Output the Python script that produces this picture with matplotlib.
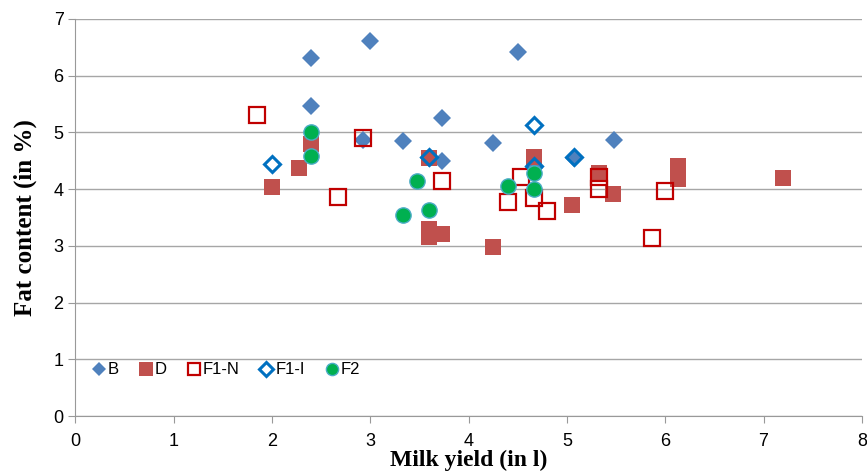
import matplotlib
matplotlib.use("Agg")
import matplotlib.pyplot as plt

# data
b_x = [2.4, 3.0, 4.5, 2.4, 3.73, 2.93, 3.33, 4.25, 3.6, 3.73, 5.48, 5.07, 4.67]
b_y = [6.32, 6.62, 6.42, 5.47, 5.25, 4.87, 4.85, 4.81, 4.55, 4.5, 4.87, 4.55, 4.38]

d_x = [2.4, 2.27, 2.0, 3.6, 3.6, 3.6, 3.73, 4.67, 4.25, 5.05, 5.33, 5.47, 6.13, 6.13, 7.2]
d_y = [4.8, 4.37, 4.04, 4.55, 3.3, 3.16, 3.21, 4.57, 2.98, 3.72, 4.28, 3.92, 4.4, 4.18, 4.2]

f1n_x = [1.85, 2.93, 2.67, 3.73, 4.4, 4.53, 4.67, 4.8, 5.33, 5.33, 6.0, 5.87]
f1n_y = [5.31, 4.91, 3.87, 4.15, 3.77, 4.21, 3.85, 3.61, 4.22, 4.01, 3.96, 3.14]

f1i_x = [2.0, 3.6, 4.67, 5.07, 4.67]
f1i_y = [4.45, 4.56, 5.13, 4.56, 4.4]

f2_x = [2.4, 2.4, 3.47, 3.33, 3.6, 4.4, 4.67, 4.67]
f2_y = [5.0, 4.58, 4.15, 3.55, 3.63, 4.05, 4.29, 4.0]

fig, ax = plt.subplots(figsize=(8.67, 4.74), dpi=100)
fig.subplots_adjust(left=0.087, right=0.994, top=0.96, bottom=0.122)

ax.plot(b_x, b_y, "D", color="#4F81BD", markersize=9, markeredgewidth=0, label="B", zorder=3)
ax.plot(d_x, d_y, "s", color="#C0504D", markersize=12, markeredgewidth=0, label="D", zorder=3)
ax.plot(f1n_x, f1n_y, "s", markerfacecolor="none", markeredgecolor="#C00000",
        markersize=11, markeredgewidth=1.6, label="F1-N", zorder=4)
ax.plot(f1i_x, f1i_y, "D", markerfacecolor="none", markeredgecolor="#0070C0",
        markersize=8.5, markeredgewidth=2.2, label="F1-I", zorder=4)
ax.plot(f2_x, f2_y, "o", color="#00B050", markeredgecolor="#4BACC6",
        markersize=11, markeredgewidth=1.0, label="F2", zorder=5)

ax.set_xlim(0, 8)
ax.set_ylim(0, 7)
ax.set_xticks(range(0, 9))
ax.set_yticks(range(0, 8))
ax.grid(axis="y", color="#A6A6A6", linewidth=1)
ax.set_axisbelow(True)
for side in ("top", "right"):
    ax.spines[side].set_visible(False)
for side in ("left", "bottom"):
    ax.spines[side].set_color("#999999")
ax.tick_params(colors="#999999", labelcolor="black", labelsize=13, length=5)
ax.tick_params(axis="x", pad=7)
for lab in ax.get_xticklabels() + ax.get_yticklabels():
    lab.set_family("Liberation Sans")

ax.set_xlabel("Milk yield (in l)", family="Liberation Serif", fontweight="bold", fontsize=17)
ax.xaxis.set_label_coords(0.5, -0.085)
ax.set_ylabel("Fat content (in %)", family="Liberation Serif", fontweight="bold",
              fontsize=18, labelpad=12)

leg = ax.legend(loc="lower left", bbox_to_anchor=(0.0, 0.06), ncol=5, frameon=False,
                handletextpad=0.05, columnspacing=1.1, handlelength=1.0,
                prop={"family": "Liberation Sans", "size": 12}, markerscale=0.8)

fig.savefig("out.png")
